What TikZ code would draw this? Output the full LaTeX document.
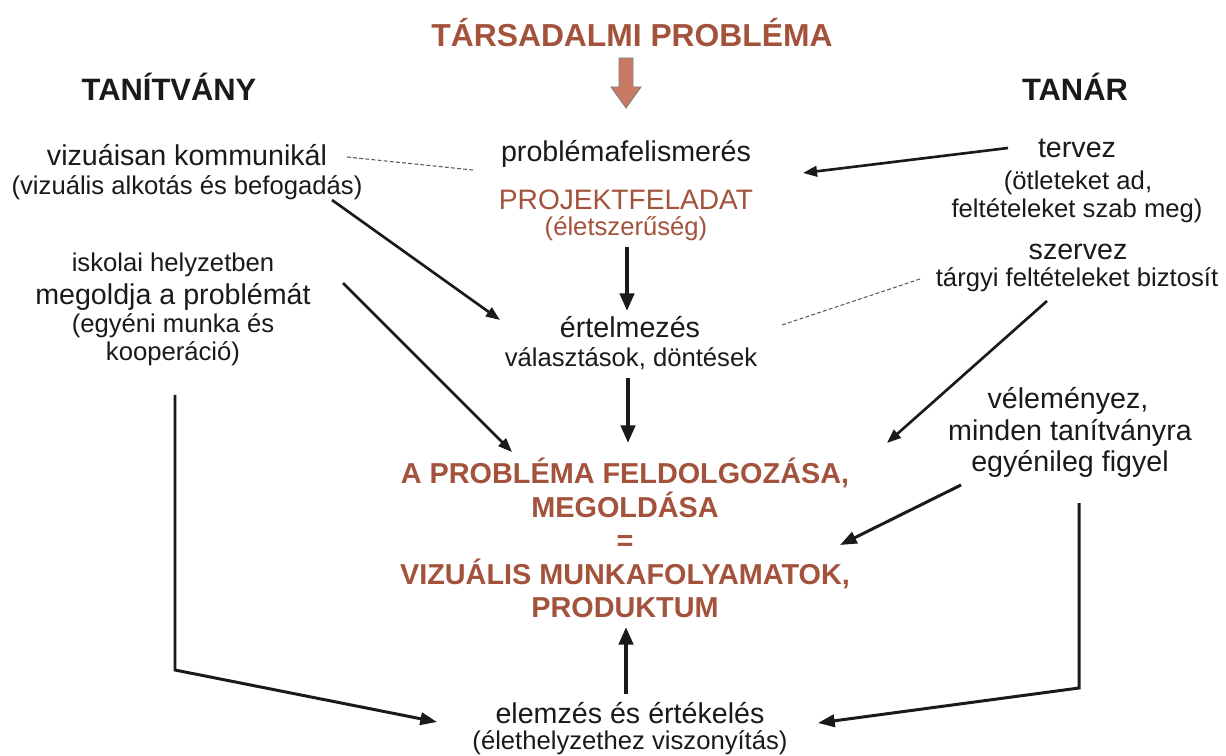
\documentclass[tikz,border=0pt]{standalone}
\usepackage{fontspec}
\setmainfont{Liberation Sans}
\usetikzlibrary{arrows.meta}
\definecolor{brn}{RGB}{163,82,60}
\definecolor{arrfill}{RGB}{201,122,99}
\definecolor{ink}{RGB}{26,26,26}
\begin{document}
\begin{tikzpicture}[x=0.02cm,y=-0.02cm,
  lbl/.style={text=ink, inner sep=0pt, anchor=base},
  big/.style={lbl, font=\fontsize{16.3}{19}\selectfont},
  small/.style={lbl, font=\fontsize{14.6}{17}\selectfont},
  head/.style={lbl, font=\fontsize{17.6}{21}\selectfont\bfseries},
  bbrown/.style={lbl, text=brn, font=\fontsize{16.4}{19}\selectfont\bfseries},
  darr/.style={draw=ink, line width=1.5pt, -{Triangle[length=8pt,width=6pt]}},
  varr/.style={draw=ink, line width=2.3pt, -{Triangle[length=10pt,width=8pt]}},
  parr/.style={draw=ink, line width=1.7pt, -{Triangle[length=9.5pt,width=7pt]}},
  dline/.style={draw=black!65, line width=0.6pt, dash pattern=on 2.2pt off 1.3pt}
]
\useasboundingbox (0,0) rectangle (1226,756);
\fill[white] (0,0) rectangle (1226,756);

% headings
\node[lbl, text=brn, font=\fontsize{18.1}{22}\selectfont\bfseries] (title) at (632,47) {TÁRSADALMI PROBLÉMA};
\node[head] (student) at (169,101) {TANÍTVÁNY};
\node[head] (teacher) at (1075,101) {TANÁR};

% block arrow
\draw[fill=arrfill, draw=black!50, line width=0.5pt]
  (619,58) -- (633,58) -- (633,87) -- (641,87) -- (626,108) -- (611,87) -- (619,87) -- cycle;

% left column
\node[big] (viz1) at (187,166) {vizuáisan kommunikál};
\node[small] (viz2) at (187,195) {(vizuális alkotás és befogadás)};
\node[small] (isk1) at (173,272) {iskolai helyzetben};
\node[big] (isk2) at (173,305) {megoldja a problémát};
\node[small] (isk3) at (173,333) {(egyéni munka és};
\node[small] (isk4) at (173,361) {kooperáció)};

% centre column
\node[big] (prob) at (626,162) {problémafelismerés};
\node[lbl, text=brn, font=\fontsize{16}{19}\selectfont] (proj1) at (626,210) {PROJEKTFELADAT};
\node[lbl, text=brn, font=\fontsize{14.6}{17}\selectfont] (proj2) at (626,236) {(életszerűség)};
\node[big] (ert1) at (630,338) {értelmezés};
\node[small] (ert2) at (631,367) {választások, döntések};
\node[bbrown] (res1) at (625,483) {A PROBLÉMA FELDOLGOZÁSA,};
\node[bbrown] (res2) at (625,517) {MEGOLDÁSA};
\node[bbrown] (res3) at (625,550) {=};
\node[bbrown] (res4) at (625,584) {VIZUÁLIS MUNKAFOLYAMATOK,};
\node[bbrown] (res5) at (625,617) {PRODUKTUM};
\node[big] (ele1) at (630,723) {elemzés és értékelés};
\node[small] (ele2) at (630,749) {(élethelyzethez viszonyítás)};

% right column
\node[big] (ter1) at (1077,158) {tervez};
\node[small] (ter2) at (1078,190) {(ötleteket ad,};
\node[small] (ter3) at (1077,218) {feltételeket szab meg)};
\node[big] (sze1) at (1078,260) {szervez};
\node[small] (sze2) at (1077,287) {tárgyi feltételeket biztosít};
\node[big] (vel1) at (1068,409) {véleményez,};
\node[big] (vel2) at (1070,440) {minden tanítványra};
\node[big] (vel3) at (1070,471) {egyénileg figyel};

% connector end points
\coordinate (d1a) at (347,157); \coordinate (d1b) at (473,170);
\coordinate (d2a) at (920,279); \coordinate (d2b) at (782,325);
\coordinate (a1s) at (1008,148); \coordinate (a1e) at (803,173);
\coordinate (a2s) at (332,200); \coordinate (a2e) at (500,320);
\coordinate (a3s) at (343,283); \coordinate (a3e) at (512,452);
\coordinate (a4s) at (627,247); \coordinate (a4e) at (627,311);
\coordinate (a5s) at (628,378); \coordinate (a5e) at (628,443);
\coordinate (a6s) at (626,694); \coordinate (a6e) at (626,627);
\coordinate (a7s) at (1047,301); \coordinate (a7e) at (887,443);
\coordinate (a8s) at (961,485); \coordinate (a8e) at (840,545);
\coordinate (l1) at (175,395); \coordinate (l2) at (175,670); \coordinate (l3) at (437,722);
\coordinate (r1) at (1079,503); \coordinate (r2) at (1079,688); \coordinate (r3) at (818,723);

% dashed links
\draw[dline] (d1a) -- (d1b);
\draw[dline] (d2a) -- (d2b);

% arrows
\draw[darr] (a1s) -- (a1e);
\draw[darr] (a2s) -- (a2e);
\draw[darr] (a3s) -- (a3e);
\draw[varr] (a4s) -- (a4e);
\draw[varr] (a5s) -- (a5e);
\draw[varr] (a6s) -- (a6e);
\draw[darr] (a7s) -- (a7e);
\draw[parr] (a8s) -- (a8e);
\draw[parr, line join=miter] (l1) -- (l2) -- (l3);
\draw[parr, line join=miter] (r1) -- (r2) -- (r3);
\end{tikzpicture}
\end{document}
